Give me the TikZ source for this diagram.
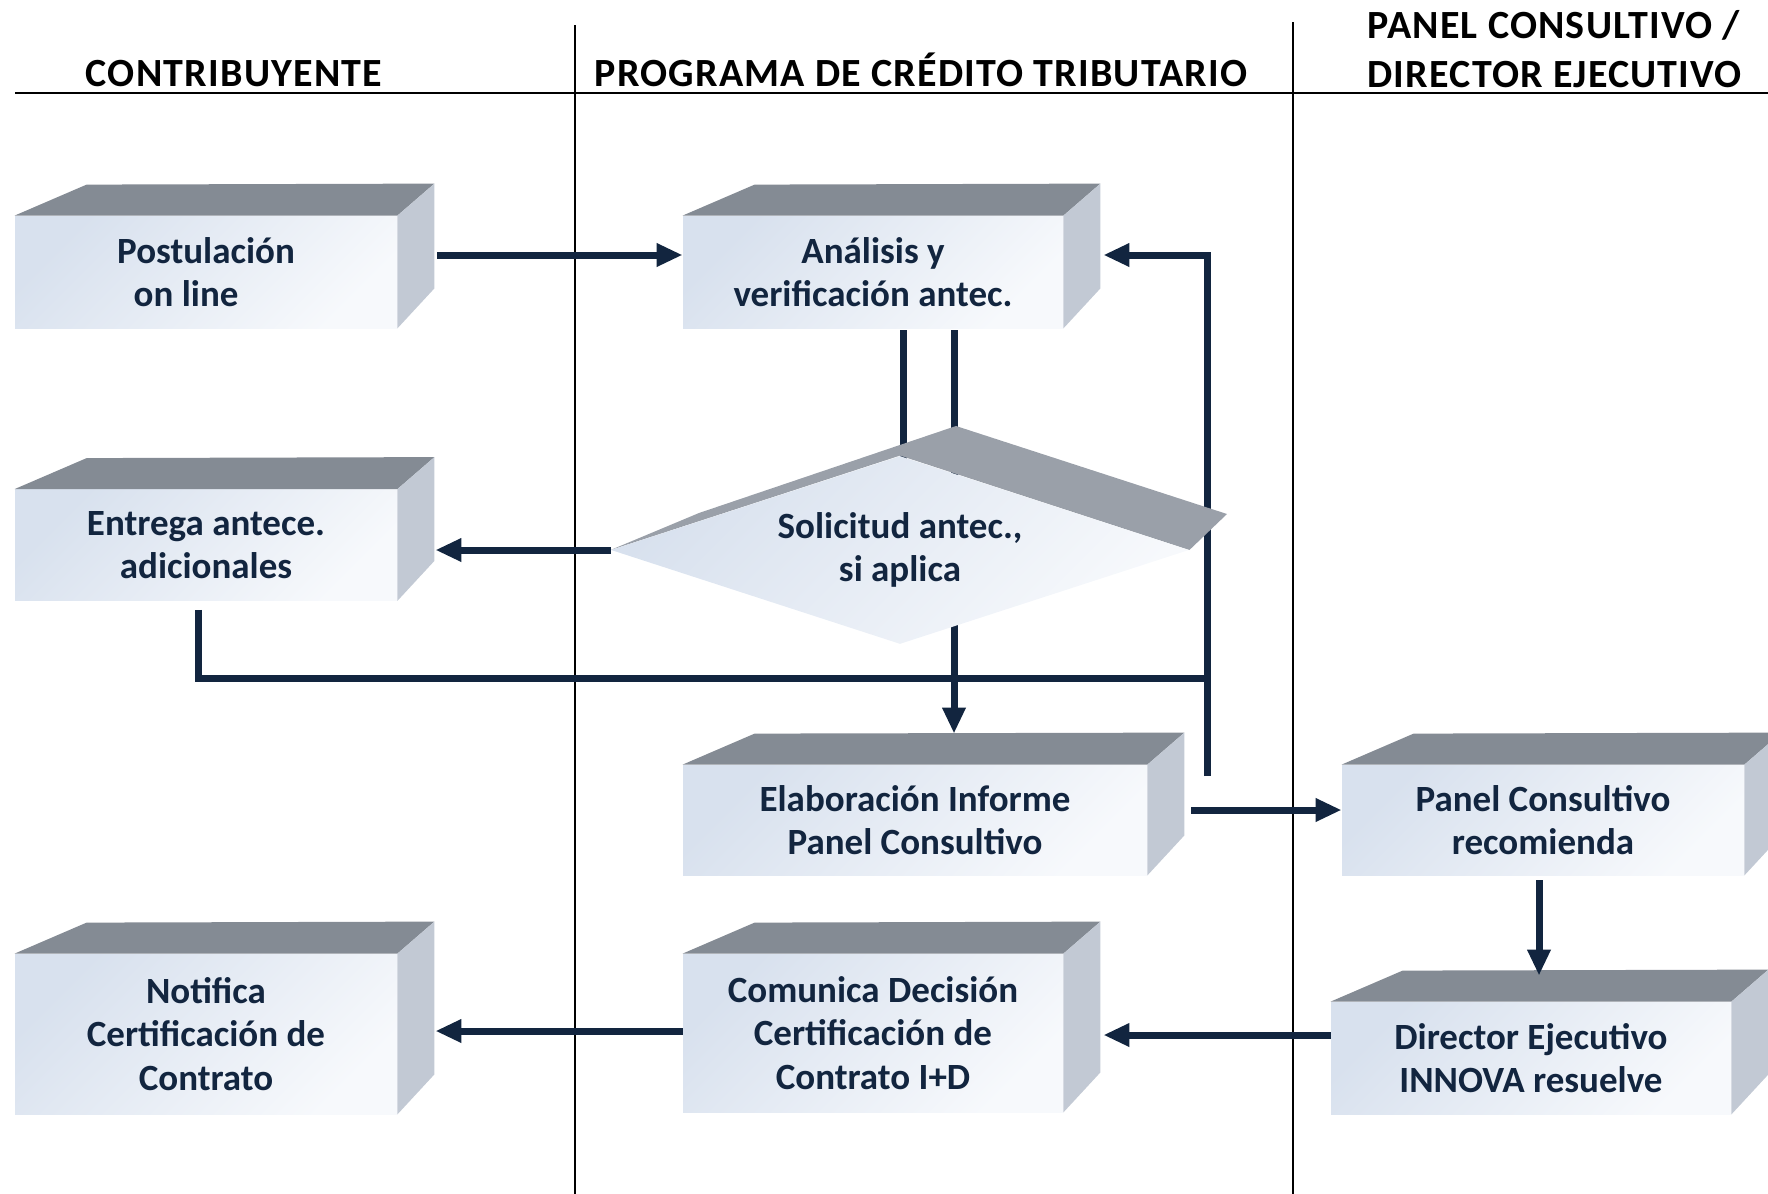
\documentclass[tikz,border=0pt]{standalone}
\usepackage{fontspec}
\setmainfont{Carlito}
\usetikzlibrary{arrows.meta,calc,positioning,shapes.geometric}
\pgfdeclarelayer{fondo}
\pgfsetlayers{fondo,main}
\definecolor{azul}{HTML}{12253F}
\definecolor{frenteA}{HTML}{D8E1EE}
\definecolor{frenteB}{HTML}{F7F9FC}
\definecolor{grisSup}{HTML}{848B94}
\definecolor{grisLat}{HTML}{C2C9D4}
\definecolor{grisDia}{HTML}{9AA0A9}
\tikzset{
    caja/.style={rectangle, inner sep=0pt, top color=frenteA, bottom color=frenteB,
        shading angle=45, text=azul, align=center,
        font=\bfseries\fontsize{18.5}{21.7}\selectfont},
    rombo/.style={caja, diamond, aspect=3.07},
    titulo/.style={text=black, inner sep=0pt,
        font=\bfseries\fontsize{20}{24.5}\selectfont\addfontfeature{LetterSpace=3}},
    flecha/.style={draw=azul, line width=3.5pt, -{Triangle[length=13pt,width=11pt]}},
    linea/.style={draw=azul, line width=3.5pt},
    carril/.style={draw=black, line width=1.2pt}
}
\begin{document}
\begin{tikzpicture}[x=0.5pt, y=-0.5pt]
    \useasboundingbox (0,0) rectangle (1768,1194);
    \draw[carril] (15,93) -- (1768,93)
    (575,25) -- (575,1194)
    (1293,22) -- (1293,1194);
    \node[titulo, anchor=base] (hcontrib) at (234,86) {CONTRIBUYENTE};
    \node[titulo, anchor=base] (hprog) at (921,86) {PROGRAMA DE CRÉDITO TRIBUTARIO};
    \node[titulo, anchor=base west, align=left] (hpanel) at (1367,87) {PANEL CONSULTIVO /\\DIRECTOR EJECUTIVO};

    \node[caja, minimum width=191pt, minimum height=56pt] (post) at (206,272) {Postulación\\on line\phantom{on}};
    \node[caja, minimum width=190pt, minimum height=56pt] (anal) at (873,272) {Análisis y\\verificación antec.};
    \node[caja, minimum width=191pt, minimum height=55.5pt] (entr) at (206,545) {Entrega antece.\\adicionales};
    \node[rombo, minimum width=289pt, minimum height=94pt] (dia) at (900,550) {Solicitud antec.,\\si aplica};
    \node[caja, minimum width=232pt, minimum height=55pt] (elab) at (915,820) {Elaboración Informe\\Panel Consultivo};
    \node[caja, minimum width=201pt, minimum height=55pt] (panel) at (1543,820) {Panel Consultivo\\recomienda};
    \node[caja, minimum width=191pt, minimum height=80pt] (notif) at (206,1034) {Notifica\\Certificación de\\Contrato};
    \node[caja, minimum width=190pt, minimum height=79pt] (comu) at (873,1033) {Comunica Decisión\\Certificación de\\Contrato I+D};
    \node[caja, minimum width=200pt, minimum height=56pt] (dir) at (1531,1058) {Director Ejecutivo\\INNOVA resuelve};

    \foreach \n in {post,anal,entr,elab,panel,notif,comu,dir} {
        \fill[grisSup] (\n.north west) -- ++(72,-31) -- ($(\n.north east)+(37,-32)$) -- (\n.north east) -- cycle;
        \fill[grisLat] (\n.north east) -- ++(37,-32) -- ($(\n.south east)+(37,-40)$) -- (\n.south east) -- cycle;
    }

    \coordinate (a0) at ($(anal.south)+(30,2)$);
    \coordinate (a1) at ($(anal.south)+(81,2)$);
    \coordinate (lazo) at (1207,776);
    \coordinate (junta) at (1207,678);
    \coordinate (e0) at ($(entr.south)+(-8,9)$);
    \begin{pgfonlayer}{fondo}
        \draw[linea] (a0) -- (a0 |- dia.center);
        \draw[flecha, shorten >=15.5pt] (a1) -- (a1 |- elab.north);
        \draw[flecha, shorten >=20pt] (lazo) |- ($(anal.east)+(0,-17)$);
        \fill[grisDia] (dia.west) -- (699,513) -- (956,426) -- (1227,514) -- (dia.east) -- (dia.north) -- cycle;
    \end{pgfonlayer}

    \draw[flecha] ($(post.east)+(40,-17)$) -- ($(anal.west)+(0,-17)$);
    \draw[flecha, shorten >=19pt] (dia.west) -- (dia.west -| entr.east);
    \draw[linea] (e0) |- (junta);
    \draw[flecha] ($(elab.east)+(44,-10)$) -- ($(panel.west)+(0,-10)$);
    \draw[flecha, shorten >=13pt] ($(panel.south)+(-4,5)$) coordinate (p0) -- (p0 |- dir.north);
    \draw[flecha, shorten >=20pt] ($(dir.west)+(0,-23)$) -- ($(comu.east)+(0,2)$);
    \draw[flecha, shorten >=19pt] ($(comu.west)+(0,-2)$) -- ($(notif.east)+(0,-3)$);
\end{tikzpicture}
\end{document}
